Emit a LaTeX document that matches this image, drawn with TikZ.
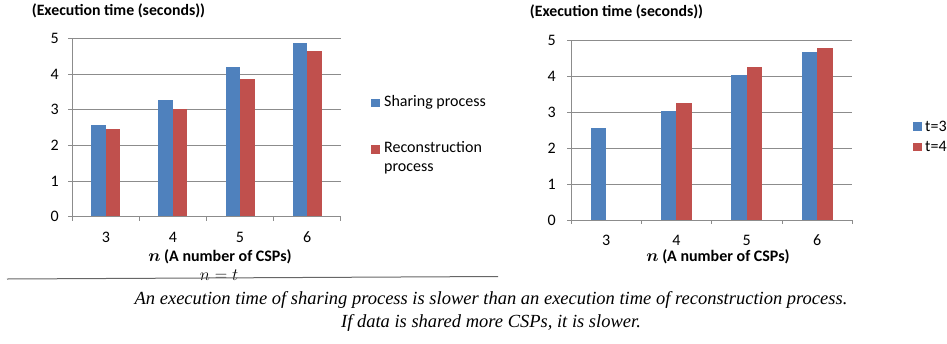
\documentclass[tikz,border=0pt]{standalone}
\usepackage{fontspec}
\setmainfont{Carlito}
\newfontfamily\capfont{Liberation Serif}
\definecolor{barblue}{HTML}{4F81BD}
\definecolor{barred}{HTML}{C0504D}
\definecolor{gridgray}{HTML}{8C8C8C}
\begin{document}
\begin{tikzpicture}[x=1pt,y=-1pt,
  lab/.style={font=\fontsize{16}{18}\selectfont, inner sep=0pt},
  ttl/.style={font=\fontsize{15.8}{18}\selectfont\bfseries, inner sep=0pt},
  axt/.style={font=\fontsize{16}{18}\selectfont\bfseries, inner sep=0pt},
  gridline/.style={draw=gridgray, line width=0.8pt},
  captext/.style={font=\fontsize{18.5}{23}\selectfont\capfont\itshape, inner sep=0pt, align=center}]
\useasboundingbox (0,0) rectangle (947,343);
% ---------- left chart ----------
\foreach \v in {1,...,5} \draw[gridline] (68,{216.7-35.7*\v}) -- (340.7,{216.7-35.7*\v});
\draw[gridline] (72.3,38.3) -- (72.3,216.7);
\foreach \v in {0,...,5} {
  \draw[gridline] (68,{216.7-35.7*\v}) -- (72.3,{216.7-35.7*\v});
  \node[lab,anchor=east] (ly\v) at (59,{216.7-35.7*\v}) {\v};
}
\foreach \k/\b/\r/\n in {0/2.58/2.45/3,1/3.27/3.01/4,2/4.20/3.86/5,3/4.86/4.65/6} {
  \pgfmathsetmacro\cx{72.3+67.1*\k+33.55}
  \fill[barblue] ({\cx-14.5},216.7) rectangle (\cx,{216.7-35.7*\b});
  \fill[barred] (\cx,216.7) rectangle ({\cx+14.5},{216.7-35.7*\r});
  \node[lab] (lx\n) at (\cx,237) {\n};
}
\draw[gridline] (68,216.7) -- (340.7,216.7);
\foreach \k in {0,...,4} \draw[gridline] ({72.3+67.1*\k},216.7) -- ({72.3+67.1*\k},221);
\node[ttl] (ltitle) at (118.5,11) {(Execution time (seconds))};
\node[axt] (lxt) at (220,257) {{\boldmath$n$} (A number of CSPs)};
% left legend
\fill[barblue] (371,98.5) rectangle (380,107);
\node[lab,anchor=west] (lg1) at (384,102.7) {Sharing process};
\fill[barred] (371,145) rectangle (380,153.5);
\node[lab,anchor=north west,align=left,font=\fontsize{16}{19.5}\selectfont] (lg2) at (384,141) {Reconstruction\\process};
% ---------- right chart ----------
\foreach \v in {1,...,5} \draw[gridline] (567,{220-36*\v}) -- (852.3,{220-36*\v});
\draw[gridline] (571,40) -- (571,220);
\foreach \v in {0,...,5} {
  \draw[gridline] (567,{220-36*\v}) -- (571,{220-36*\v});
  \node[lab,anchor=east] (ry\v) at (556,{220-36*\v}) {\v};
}
\foreach \k/\b/\n in {0/2.56/3,1/3.03/4,2/4.04/5,3/4.68/6} {
  \pgfmathsetmacro\cx{571+70.3*\k+35.15}
  \fill[barblue] ({\cx-15.5},220) rectangle (\cx,{220-36*\b});
  \node[lab] (rx\n) at (\cx,240) {\n};
}
\foreach \k/\r in {1/3.24,2/4.25,3/4.77} {
  \pgfmathsetmacro\cx{571+70.3*\k+35.15}
  \fill[barred] (\cx,220) rectangle ({\cx+15.5},{220-36*\r});
}
\draw[gridline] (567,220) -- (852.3,220);
\foreach \k in {0,...,4} \draw[gridline] ({571+70.3*\k},220) -- ({571+70.3*\k},224);
\node[ttl] (rtitle) at (616.5,12) {(Execution time (seconds))};
\node[axt] (rxt) at (718,257) {{\boldmath$n$} (A number of CSPs)};
\fill[barblue] (913,121.5) rectangle (921.7,130.5);
\node[lab,anchor=west] (rg1) at (925,126) {t=3};
\fill[barred] (913,142.5) rectangle (921.7,151);
\node[lab,anchor=west] (rg2) at (925,146.7) {t=4};
% ---------- bottom ----------
\node[inner sep=0pt,font=\fontsize{16.5}{18}\selectfont] (nt) at (219,275) {$n=t$};
\coordinate (ha) at (7,279);
\coordinate (hb) at (498,276.5);
\draw[gray!80!black, line width=1pt] (ha) -- (hb);
\node[captext] (caption) at (491,311.5) {An execution time of sharing process is slower than an execution time of reconstruction process.\\If data is shared more CSPs, it is slower.};
\end{tikzpicture}
\end{document}
